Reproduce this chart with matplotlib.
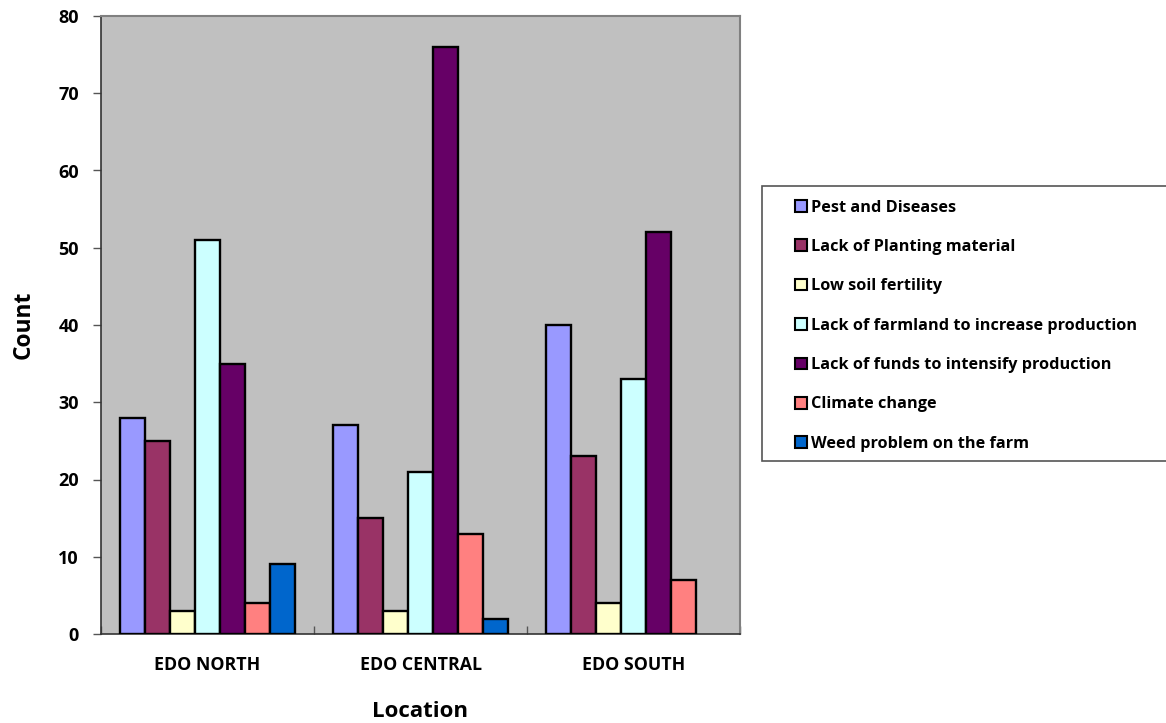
import matplotlib
matplotlib.use("Agg")
import matplotlib.pyplot as plt
import numpy as np
from matplotlib.patches import Rectangle, Patch

plt.rcParams['font.family'] = ['Open Sans', 'DejaVu Sans']
plt.rcParams['font.weight'] = 'bold'

locations = ["EDO NORTH", "EDO CENTRAL", "EDO SOUTH"]
series_names = ["Pest and Diseases", "Lack of Planting material", "Low soil fertility",
                "Lack of farmland to increase production", "Lack of funds to intensify production",
                "Climate change", "Weed problem on the farm"]
pest = [28, 27, 40]
planting = [25, 15, 23]
soil = [3, 3, 4]
farmland = [51, 21, 33]
funds = [35, 76, 52]
climate = [4, 13, 7]
weed = [9, 2, 0]
series_values = [pest, planting, soil, farmland, funds, climate, weed]
colors = ["#9999FF", "#993366", "#FFFFCC", "#CCFFFF", "#660066", "#FF8080", "#0066CC"]
yticks = [0, 10, 20, 30, 40, 50, 60, 70, 80]

fig = plt.figure(figsize=(11.66, 7.23), dpi=100)
ax = fig.add_axes([101/1166, 1-634/723, (740-101)/1166, (634-16)/723])
ax.set_facecolor("#C0C0C0")

n = len(series_values)
group = 7/8.5
w = group/n
x = np.arange(len(locations))
for i, (vals, c) in enumerate(zip(series_values, colors)):
    pos = x - group/2 + w*(i+0.5)
    for p, v in zip(pos, vals):
        if v > 0:
            ax.bar(p, v, width=w, color=c, edgecolor="black", linewidth=1.7, zorder=3)

ax.set_xlim(-0.5, 2.5)
ax.set_ylim(0, 80)
ax.set_yticks(yticks)
ax.set_yticklabels([str(t) for t in yticks], fontsize=13, fontweight='bold')
ax.set_xticks(x)
ax.set_xticklabels(locations, fontsize=12.8, fontweight='bold')
ax.tick_params(axis='x', which='major', length=0, pad=16)
ax.set_xticks([-0.5, 0.5, 1.5, 2.5], minor=True)
ax.tick_params(axis='x', which='minor', direction='in', length=6, width=1, color='#555555')
ax.tick_params(axis='y', direction='out', length=6, width=1, color='#555555', pad=10)

for s in ['top', 'right']:
    ax.spines[s].set_color('#808080')
    ax.spines[s].set_linewidth(1.5)
for s in ['left', 'bottom']:
    ax.spines[s].set_color('#333333')
    ax.spines[s].set_linewidth(1.2)

ax.set_ylabel("Count", fontsize=16.4, fontweight='bold', labelpad=16)
ax.set_xlabel("Location", fontsize=16, fontweight='bold', labelpad=19.5)

# legend frame
frame = Rectangle((762/1166, 1-461/723), 420/1166, (461-186)/723, transform=fig.transFigure,
                  facecolor='white', edgecolor='#555555', linewidth=1.2)
fig.add_artist(frame)
handles = [Patch(facecolor=c, edgecolor='black', linewidth=1.5) for c in colors]
leg = fig.legend(handles, series_names, loc='upper left',
                 bbox_to_anchor=(795/1166, 1-199.5/723), frameon=False,
                 prop={'size': 11.7, 'weight': 'bold'}, handlelength=0.73, handleheight=0.73,
                 handletextpad=0.25, labelspacing=1.44, borderaxespad=0, borderpad=0)

fig.savefig("out.png", dpi=100, facecolor='white')
